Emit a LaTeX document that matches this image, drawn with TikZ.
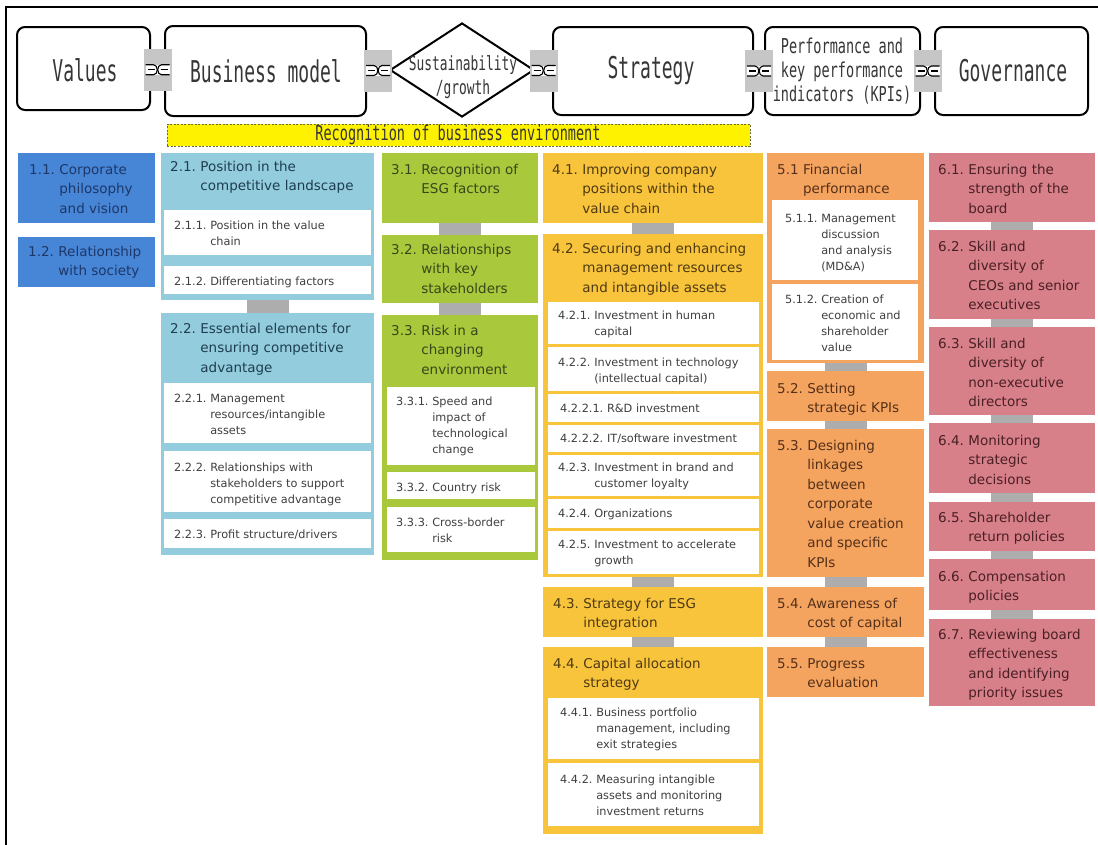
\documentclass[tikz,border=0pt]{standalone}
\usepackage{fontspec}
\setmainfont{DejaVu Sans}
\newfontfamily\hdrA{DejaVu Sans Mono}[FakeStretch=0.6]
\newfontfamily\hdrB{DejaVu Sans Mono}[FakeStretch=0.66]
\usetikzlibrary{calc,fit,shapes.geometric}

\definecolor{blueA}{HTML}{4785D6}
\definecolor{blueAtxt}{HTML}{1D3868}
\definecolor{aquaB}{HTML}{93CDDD}
\definecolor{aquaBtxt}{HTML}{1E3E50}
\definecolor{greenC}{HTML}{AAC83C}
\definecolor{greenCtxt}{HTML}{39461A}
\definecolor{goldD}{HTML}{F8C43C}
\definecolor{goldDtxt}{HTML}{4F3A12}
\definecolor{orangeE}{HTML}{F4A45E}
\definecolor{orangeEtxt}{HTML}{55301A}
\definecolor{roseF}{HTML}{D8808A}
\definecolor{roseFtxt}{HTML}{4A2024}
\definecolor{linkgray}{HTML}{ADADAD}
\definecolor{chaingray}{HTML}{C6C6C6}
\definecolor{subtxt}{HTML}{3F3F3F}
\definecolor{hdrtxt}{HTML}{363636}
\definecolor{envborder}{HTML}{6B6B2E}

% fonts for the item texts (struts reset so tabular rows follow the leading)
\newcommand\bigfont{\fontsize{13.5}{19.5}\selectfont
  \setbox\strutbox\hbox{\vrule height 13.65pt depth 5.85pt width 0pt}}
\newcommand\smallfont{\fontsize{11.3}{16.3}\selectfont
  \setbox\strutbox\hbox{\vrule height 11.4pt depth 4.9pt width 0pt}}

% number followed by a block of lines with hanging indent
\newcommand\numlbl[2]{\begin{tabular}[t]{@{}l@{}}#1\end{tabular}\hspace{0.33em}\begin{tabular}[t]{@{}l@{}}#2\end{tabular}}

% \panel{name}{colour}{x1}{y1}{x2}{y2}
\newcommand\panel[6]{\node[panelbox, fill=#2, fit={(#3,#4) (#5,#6)}] (#1) {};}
% \bigitem{name}{colour}{x,y}{number}{lines}
\newcommand\bigitem[5]{\node[itemtext, text=#2, font=\bigfont] (#1) at (#3) {\numlbl{#4}{#5}};}
\newcommand\smallitem[4]{\node[itemtext, text=subtxt, font=\smallfont] (#1) at (#2) {\numlbl{#3}{#4}};}
% gray bar joining two stacked panels
\newcommand\vlink[2]{\fill[linkgray] ($(#1.south)+(-21,0)$) rectangle ($(#2.north)+(21,0)$);}

\tikzset{
  hdrbox/.style={draw=black, line width=2pt, rounded corners=8pt, inner sep=0pt, fill=white},
  chainbg/.style={fill=chaingray, minimum width=28pt, minimum height=42pt, inner sep=0pt, draw=none},
  panelbox/.style={inner sep=0pt, outer sep=0pt, draw=none},
  itemtext/.style={anchor=base west, inner sep=0pt},
  chainsym/.pic={
    \fill[white] (-12,-5) rectangle (12,5);
    \draw[line width=1.1pt, black] (-12,-5) -- (-4,-5) .. controls (1,-5) and (1,5) .. (-4,5) -- (-12,5);
    \draw[line width=1.1pt, black] (12,-5) -- (4,-5) .. controls (-1,-5) and (-1,5) .. (4,5) -- (12,5);
    \draw[line width=1.1pt, black] (-10,0) -- (-3,0) (3,0) -- (10,0);
  }
}

\begin{document}
\begin{tikzpicture}[x=1pt,y=-1pt]
\useasboundingbox (0,0) rectangle (1098,844);

% frame
\draw[line width=2.5pt, line cap=rect] (6,844) -- (6,7) -- (1098,7);

% ---- header chain ----
\node[hdrbox, fit={(17,27) (150,110)}] (values) {};
\node[hdrbox, fit={(165,26) (366,116)}] (bm) {};
\node[diamond, draw=black, line width=2pt, fill=white, aspect=1.53,
      minimum width=144pt, minimum height=94pt, inner sep=0pt] (sus) at (462,70) {};
\node[hdrbox, fit={(553,27) (753,115)}] (strat) {};
\node[hdrbox, fit={(765,27) (920,115)}] (perf) {};
\node[hdrbox, fit={(935,27) (1088,115)}] (gov) {};

\node[font=\hdrA\fontsize{30}{30}\selectfont, text=hdrtxt] (tvalues) at (85,70) {Values};
\node[font=\hdrA\fontsize{30}{30}\selectfont, text=hdrtxt] (tbm) at (266,71) {Business model};
\node[font=\hdrB\fontsize{19.5}{24}\selectfont, text=hdrtxt, align=center] (tsus) at (463,77) {Sustainability\\/growth};
\node[font=\hdrA\fontsize{30}{30}\selectfont, text=hdrtxt] (tstrat) at (651,71) {Strategy};
\node[font=\hdrB\fontsize{20.5}{24}\selectfont, text=hdrtxt, align=center] (tperf) at (842,71) {Performance and\\key performance\\indicators (KPIs)};
\node[font=\hdrA\fontsize{30}{30}\selectfont, text=hdrtxt] (tgov) at (1013,71) {Governance};

\node[chainbg] (ch1) at ($(values.east)!0.5!(bm.west)$ |- 0,70) {};
\node[chainbg] (ch2) at ($(bm.east)!0.5!(sus.west)$ |- 0,70) {};
\node[chainbg] (ch3) at ($(sus.east)!0.5!(strat.west)$ |- 0,70) {};
\node[chainbg] (ch4) at ($(strat.east)!0.5!(perf.west)$ |- 0,70) {};
\node[chainbg] (ch5) at ($(perf.east)!0.5!(gov.west)$ |- 0,70) {};
\foreach \c in {ch1,ch2,ch3,ch4,ch5} \pic at (\c) {chainsym};

% business environment bar
\node[fit={(167,124) (750,146)}, inner sep=0pt, fill=yellow, draw=envborder,
      line width=0.8pt, dash pattern=on 2pt off 1.5pt] (env) {};
\node[font=\hdrB\fontsize{20.5}{20.5}\selectfont, text=hdrtxt] (tenv) at (458,135) {Recognition of business environment};

% ---- column 1: values ----
\panel{b11}{blueA}{18}{153}{155}{223}
\panel{b12}{blueA}{18}{237}{155}{287}
\bigitem{t11}{blueAtxt}{29,174}{1.1.}{Corporate\\philosophy\\and vision}
\bigitem{t12}{blueAtxt}{28,256}{1.2.}{Relationship\\with society}

% ---- column 2: business model ----
\panel{b21}{aquaB}{161}{153}{374}{300}
\panel{b22}{aquaB}{161}{313}{374}{555}
\vlink{b21}{b22}
\panel{b211}{white}{164}{210}{371}{255}
\panel{b212}{white}{164}{266}{371}{294}
\panel{b221}{white}{164}{383}{371}{443}
\panel{b222}{white}{164}{451}{371}{512}
\panel{b223}{white}{164}{519}{371}{548}
\bigitem{t21}{aquaBtxt}{170,171}{2.1.}{Position in the\\competitive landscape}
\smallitem{t211}{174,229}{2.1.1.}{Position in the value\\chain}
\smallitem{t212}{174,285}{2.1.2.}{Differentiating factors}
\bigitem{t22}{aquaBtxt}{170,333}{2.2.}{Essential elements for\\ensuring competitive\\advantage}
\smallitem{t221}{174,402}{2.2.1.}{Management\\resources/intangible\\assets}
\smallitem{t222}{174,471}{2.2.2.}{Relationships with\\stakeholders to support\\competitive advantage}
\smallitem{t223}{174,538}{2.2.3.}{Profit structure/drivers}

% ---- column 3: sustainability / growth ----
\panel{b31}{greenC}{382}{153}{538}{223}
\panel{b32}{greenC}{382}{235}{538}{303}
\panel{b33}{greenC}{382}{315}{538}{560}
\vlink{b31}{b32}
\vlink{b32}{b33}
\panel{b331}{white}{387}{387}{535}{465}
\panel{b332}{white}{387}{472}{535}{499}
\panel{b333}{white}{387}{507}{535}{552}
\bigitem{t31}{greenCtxt}{391,174}{3.1.}{Recognition of\\ESG factors}
\bigitem{t32}{greenCtxt}{391,254}{3.2.}{Relationships\\with key\\stakeholders}
\bigitem{t33}{greenCtxt}{391,335}{3.3.}{Risk in a\\changing\\environment}
\smallitem{t331}{396,405}{3.3.1.}{Speed and\\impact of\\technological\\change}
\smallitem{t332}{396,491}{3.3.2.}{Country risk}
\smallitem{t333}{396,526}{3.3.3.}{Cross-border\\risk}

% ---- column 4: strategy ----
\panel{b41}{goldD}{543}{153}{763}{223}
\panel{b42}{goldD}{543}{234}{763}{577}
\panel{b43}{goldD}{543}{587}{763}{637}
\panel{b44}{goldD}{543}{647}{763}{834}
\vlink{b41}{b42}
\vlink{b42}{b43}
\vlink{b43}{b44}
\panel{b421}{white}{548}{302}{759}{344}
\panel{b422}{white}{548}{347}{759}{391}
\panel{b4221}{white}{548}{394}{759}{422}
\panel{b4222}{white}{548}{425}{759}{452}
\panel{b423}{white}{548}{455}{759}{496}
\panel{b424}{white}{548}{499}{759}{528}
\panel{b425}{white}{548}{531}{759}{574}
\panel{b441}{white}{548}{698}{759}{759}
\panel{b442}{white}{548}{763}{759}{826}
\bigitem{t41}{goldDtxt}{552,174}{4.1.}{Improving company\\positions within the\\value chain}
\bigitem{t42}{goldDtxt}{552,253}{4.2.}{Securing and enhancing\\management resources\\and intangible assets}
\smallitem{t421}{558,319}{4.2.1.}{Investment in human\\capital}
\smallitem{t422}{558,366}{4.2.2.}{Investment in technology\\(intellectual capital)}
\smallitem{t4221}{560,412}{4.2.2.1.}{R\&D investment}
\smallitem{t4222}{560,442}{4.2.2.2.}{IT/software investment}
\smallitem{t423}{558,471}{4.2.3.}{Investment in brand and\\customer loyalty}
\smallitem{t424}{558,517}{4.2.4.}{Organizations}
\smallitem{t425}{558,548}{4.2.5.}{Investment to accelerate\\growth}
\bigitem{t43}{goldDtxt}{553,608}{4.3.}{Strategy for ESG\\integration}
\bigitem{t44}{goldDtxt}{553,668}{4.4.}{Capital allocation\\strategy}
\smallitem{t441}{560,716}{4.4.1.}{Business portfolio\\management, including\\exit strategies}
\smallitem{t442}{560,783}{4.4.2.}{Measuring intangible\\assets and monitoring\\investment returns}

% ---- column 5: performance and KPIs ----
\panel{b51}{orangeE}{767}{153}{924}{363}
\panel{b52}{orangeE}{767}{371}{924}{421}
\panel{b53}{orangeE}{767}{429}{924}{577}
\panel{b54}{orangeE}{767}{587}{924}{637}
\panel{b55}{orangeE}{767}{647}{924}{697}
\vlink{b51}{b52}
\vlink{b52}{b53}
\vlink{b53}{b54}
\vlink{b54}{b55}
\panel{b511}{white}{772}{200}{918}{280}
\panel{b512}{white}{772}{284}{918}{360}
\bigitem{t51}{orangeEtxt}{777,174}{5.1}{Financial\\performance}
\smallitem{t511}{785,222}{5.1.1.}{Management\\discussion\\and analysis\\(MD\&A)}
\smallitem{t512}{785,303}{5.1.2.}{Creation of\\economic and\\shareholder\\value}
\bigitem{t52}{orangeEtxt}{777,393}{5.2.}{Setting\\strategic KPIs}
\bigitem{t53}{orangeEtxt}{777,450}{5.3.}{Designing\\linkages\\between\\corporate\\value creation\\and specific\\KPIs}
\bigitem{t54}{orangeEtxt}{777,608}{5.4.}{Awareness of\\cost of capital}
\bigitem{t55}{orangeEtxt}{777,668}{5.5.}{Progress\\evaluation}

% ---- column 6: governance ----
\panel{b61}{roseF}{929}{153}{1095}{222}
\panel{b62}{roseF}{929}{230}{1095}{319}
\panel{b63}{roseF}{929}{327}{1095}{415}
\panel{b64}{roseF}{929}{423}{1095}{493}
\panel{b65}{roseF}{929}{502}{1095}{551}
\panel{b66}{roseF}{929}{559}{1095}{610}
\panel{b67}{roseF}{929}{619}{1095}{706}
\vlink{b61}{b62}
\vlink{b62}{b63}
\vlink{b63}{b64}
\vlink{b64}{b65}
\vlink{b65}{b66}
\vlink{b66}{b67}
\bigitem{t61}{roseFtxt}{938,174}{6.1.}{Ensuring the\\strength of the\\board}
\bigitem{t62}{roseFtxt}{938,251}{6.2.}{Skill and\\diversity of\\CEOs and senior\\executives}
\bigitem{t63}{roseFtxt}{938,348}{6.3.}{Skill and\\diversity of\\non-executive\\directors}
\bigitem{t64}{roseFtxt}{938,445}{6.4.}{Monitoring\\strategic\\decisions}
\bigitem{t65}{roseFtxt}{938,522}{6.5.}{Shareholder\\return policies}
\bigitem{t66}{roseFtxt}{938,581}{6.6.}{Compensation\\policies}
\bigitem{t67}{roseFtxt}{938,639}{6.7.}{Reviewing board\\effectiveness\\and identifying\\priority issues}
\end{tikzpicture}
\end{document}
